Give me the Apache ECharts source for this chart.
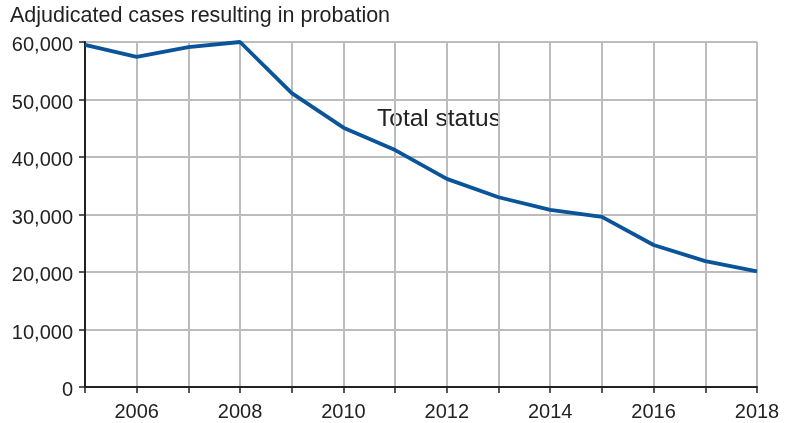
<!DOCTYPE html>
<html>
<head>
<meta charset="utf-8">
<script src="https://cdn.jsdelivr.net/npm/echarts@6/dist/echarts.min.js"></script>
<style>
  html, body { margin: 0; padding: 0; background: #fff; }
  #chart { width: 794px; height: 423px; }
</style>
</head>
<body>
<div id="chart"></div>
<script>
// values
const years = [2005, 2006, 2007, 2008, 2009, 2010, 2011, 2012, 2013, 2014, 2015, 2016, 2017, 2018];
const totalStatus = [59500, 57400, 59100, 60000, 51100, 45100, 41200, 36200, 33000, 30800, 29600, 24700, 21900, 20100];
const yTicks = [0, 10000, 20000, 30000, 40000, 50000, 60000];
const titleText = 'Adjudicated cases resulting in probation';
const seriesName = 'Total status';

const font = '"Liberation Sans", Arial, Helvetica, sans-serif';
const textColor = '#222';
const gridColor = '#bcbcbc';

const chart = echarts.init(document.getElementById('chart'), null, { renderer: 'canvas' });

const option = {
    animation: false,
    backgroundColor: '#fff',
    grid: { left: 85, right: 37, top: 42, bottom: 36 },
    xAxis: {
        type: 'value',
        min: years[0],
        max: years[years.length - 1],
        interval: 1,
        axisLine: { show: true, onZero: false, lineStyle: { color: '#222', width: 2 } },
        axisTick: { show: true, length: 6, lineStyle: { color: '#222', width: 1.5 } },
        axisLabel: {
            fontFamily: font, fontSize: 20, color: textColor, margin: 15,
            formatter: v => (v % 2 === 0 ? String(v) : '')
        },
        splitLine: { show: true, lineStyle: { color: gridColor, width: 2 } }
    },
    yAxis: {
        type: 'value',
        min: yTicks[0],
        max: yTicks[yTicks.length - 1],
        interval: 10000,
        axisLine: { show: true, lineStyle: { color: '#222', width: 2 } },
        axisTick: { show: true, length: 6, lineStyle: { color: '#222', width: 1.5 } },
        axisLabel: {
            fontFamily: font, fontSize: 20, color: textColor, margin: 12,
            // empty first line pushes the number a few px below its gridline, as in the source
            lineHeight: 7,
            formatter: v => '\n' + v.toLocaleString('en-US')
        },
        splitLine: { show: true, lineStyle: { color: gridColor, width: 2 } }
    },
    graphic: [{
        // chart title, top left
        type: 'text',
        x: 10,
        y: 16.5,
        style: { text: titleText, font: '21.5px ' + font, fill: textColor, verticalAlign: 'middle' }
    }, {
        // line label inside the plot
        type: 'text',
        x: 377,
        y: 119,
        z: -1,
        style: { text: seriesName, font: '24.5px ' + font, fill: textColor, verticalAlign: 'middle' }
    }],
    series: [{
        name: seriesName,
        type: 'line',
        data: years.map((y, i) => [y, totalStatus[i]]),
        symbol: 'none',
        lineStyle: { color: '#0a5499', width: 3.8 },
        z: 5
    }]
};

chart.setOption(option);
</script>
</body>
</html>
